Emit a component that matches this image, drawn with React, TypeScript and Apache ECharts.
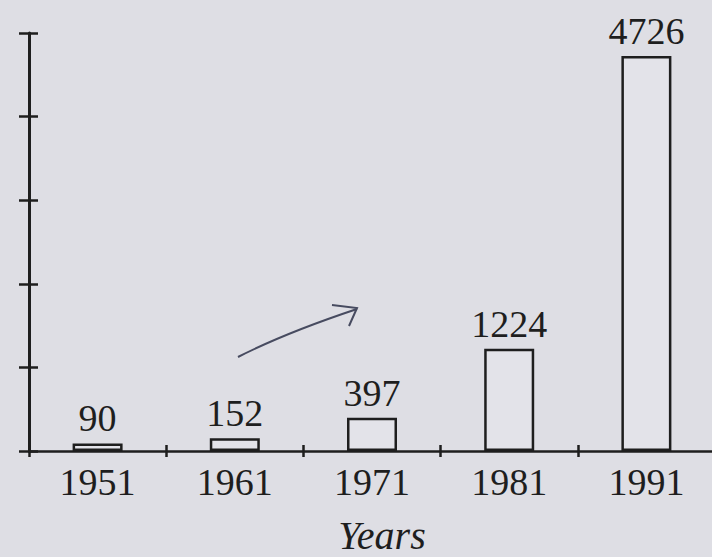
import React, { useEffect, useRef } from "react";
import * as echarts from "echarts";

const years = ["1951", "1961", "1971", "1981", "1991"];
const values = [90, 152, 397, 1224, 4726];
const axisName = "Years";
const yMax = 5000;
const yInterval = 1000;

const ink = "#1e1e1e";
const font = "'Liberation Serif', 'Times New Roman', serif";

export default function App() {
  const ref = useRef<HTMLDivElement>(null);
  useEffect(() => {
    document.body.style.margin = "0";
    const chart = echarts.init(ref.current!, null, { renderer: "svg" });
    const yCommon = {
      type: "value",
      min: 0,
      max: yMax,
      interval: yInterval,
      axisLabel: { show: false },
      splitLine: { show: false },
    };
    chart.setOption({
      animation: false,
      backgroundColor: "#dedee4",
      grid: { left: 29, top: 33, width: 686, bottom: 106, containLabel: false, outerBoundsMode: "none" },
      xAxis: [
        {
          type: "category",
          data: years,
          name: axisName,
          nameLocation: "middle",
          nameGap: 66,
          nameTextStyle: {
            fontFamily: font,
            fontStyle: "italic",
            fontSize: 40,
            lineHeight: 36,
            color: ink,
            padding: [0, 0, 0, 20],
          },
          axisLine: { lineStyle: { color: ink, width: 2.5 } },
          axisTick: { show: true, length: 6, lineStyle: { color: ink, width: 2.5 } },
          axisLabel: { fontFamily: font, fontSize: 38, color: ink, margin: 12 },
        },
        {
          type: "category",
          data: years,
          position: "bottom",
          axisLine: { show: false },
          axisTick: { show: true, inside: true, length: 6, lineStyle: { color: ink, width: 2.5 } },
          axisLabel: { show: false },
        },
      ],
      yAxis: [
        {
          ...yCommon,
          axisLine: { show: true, lineStyle: { color: ink, width: 3 } },
          axisTick: { show: true, length: 10, lineStyle: { color: ink, width: 2.5 } },
        },
        {
          ...yCommon,
          position: "left",
          axisLine: { show: false },
          axisTick: { show: true, inside: true, length: 9, lineStyle: { color: ink, width: 2.5 } },
        },
      ],
      series: [
        {
          type: "bar",
          data: values,
          barWidth: 50,
          itemStyle: { color: "rgba(230,230,236,0.6)", borderColor: ink, borderWidth: 2.5 },
          label: {
            show: true,
            position: "top",
            distance: 6,
            fontFamily: font,
            fontSize: 38,
            color: ink,
          },
        },
      ],
      graphic: [
        {
          type: "bezierCurve",
          shape: { x1: 238, y1: 357, x2: 357, y2: 309, cpx1: 285, cpy1: 333 },
          style: { stroke: "#474b60", lineWidth: 2, fill: "none" },
        },
        {
          type: "polyline",
          shape: { points: [[332, 305], [357, 308], [349, 326]] },
          style: { stroke: "#474b60", lineWidth: 2, fill: "none" },
        },
      ],
    });
    return () => chart.dispose();
  }, []);
  return <div ref={ref} style={{ width: 712, height: 557 }} />;
}
